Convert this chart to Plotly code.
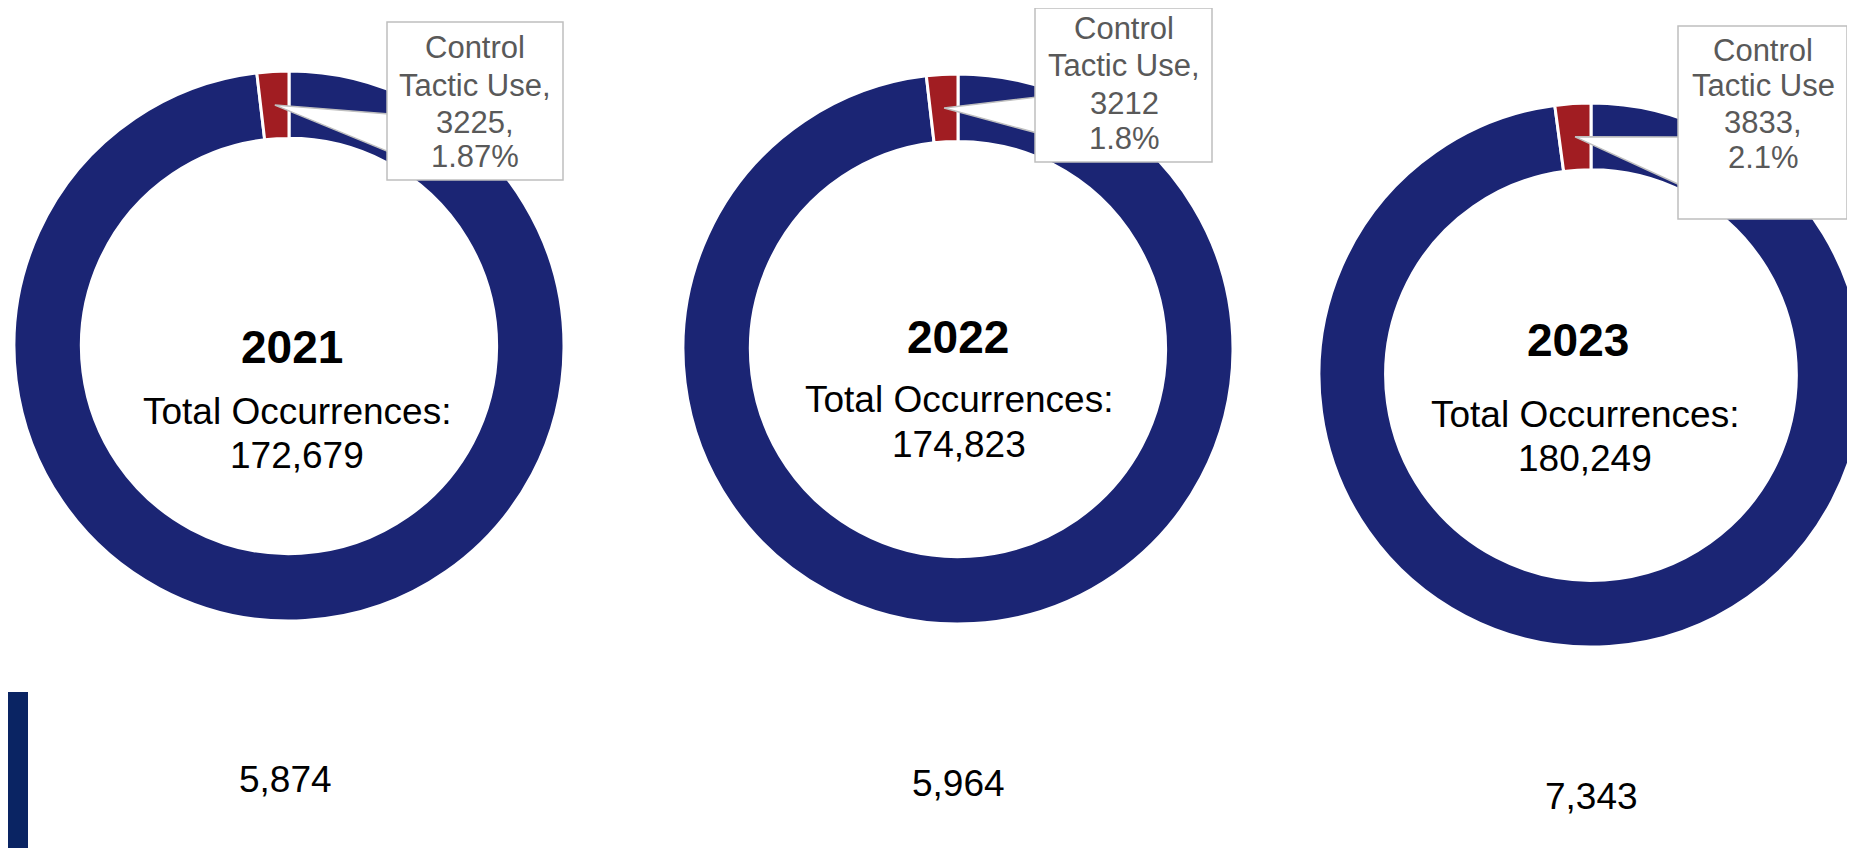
import math
import plotly.graph_objects as go

# ---------------- data ----------------
years = ["2021", "2022", "2023"]
total_occurrences = [172679, 174823, 180249]
control_tactic_use = [3225, 3212, 3833]
callout_lines = [
    ["Control", "Tactic Use,", "3225,", "1.87%"],
    ["Control", "Tactic Use,", "3212", "1.8%"],
    ["Control", "Tactic Use", "3833,", "2.1%"],
]
bottom_values = ["5,874", "5,964", "7,343"]

# ---------------- style / layout ----------------
W, H = 1855, 848
OFF = 8  # default page body margin
NAVY = "#1B2574"
RED = "#A11D22"
GRAY_TXT = "#595959"
BORDER = "#BFBFBF"
HOLE = 0.755
FONT = "Liberation Sans, Arial, sans-serif"

def px(x):
    return (x - OFF) / W

def py(y):
    return 1 - (y - OFF) / H

# donut domains in page pixels: (x0, x1, y_top, y_bottom)
donut_px = [
    (14, 564, 71, 621),
    (683, 1233, 74, 624),
    (1319, 1863, 103, 647),
]
# callout boxes: (x0, x1, y_top, y_bottom, base_y_top, base_y_bottom, text_x, line_ys)
callouts = [
    (387, 563, 22, 180, 114, 152, 475, [48, 85, 122, 157]),
    (1035, 1212, 8, 162, 97, 133, 1124, [28, 65, 103, 138]),
    (1678, 1847, 26, 219, 137, 185, 1763, [50, 85, 122, 158]),
]
center_text_px = [
    # (x_year, y_year, x_text, y_line1, y_line2)
    (292, 347, 297, 412, 455),
    (958, 337, 959, 399, 444),
    (1578, 340, 1585, 414, 458),
]
bottom_px = [(285, 779), (958, 783), (1591, 796)]

fig = go.Figure()
shapes = []
annotations = []

for i, yr in enumerate(years):
    x0, x1, yt, yb = donut_px[i]
    ctrl = control_tactic_use[i]
    other = total_occurrences[i] - ctrl
    # clockwise from 12 o'clock: "Other" first, so the red slice ends at 12 o'clock
    fig.add_trace(go.Pie(
        values=[other, ctrl],
        labels=["Other", "Control Tactic Use"],
        sort=False,
        direction="clockwise",
        rotation=0,
        hole=HOLE,
        textinfo="none",
        marker=dict(colors=[NAVY, RED], line=dict(color="white", width=3)),
        domain=dict(x=[max(0, px(x0)), min(1, px(x1))], y=[max(0, py(yb)), min(1, py(yt))]),
        showlegend=False,
        hoverinfo="label+value+percent",
    ))

    # pointer tip at the middle of the red slice
    cx, cy = (x0 + x1) / 2, (yt + yb) / 2
    r = min(x1 - x0, yb - yt) / 2
    rmid = r * (1 + HOLE) / 2
    theta = math.pi * ctrl / total_occurrences[i]
    tipx = cx - rmid * math.sin(theta)
    tipy = cy - rmid * math.cos(theta)

    bx0, bx1, byt, byb, b1, b2, tx, lys = callouts[i]
    shapes.append(dict(
        type="path", xref="paper", yref="paper", layer="above",
        path=f"M {px(tipx)},{py(tipy)} L {px(bx0 + 2)},{py(b1)} L {px(bx0 + 2)},{py(b2)} Z",
        fillcolor="white", line=dict(color=BORDER, width=1.5),
    ))
    shapes.append(dict(
        type="rect", xref="paper", yref="paper", layer="above",
        x0=px(bx0), x1=px(bx1), y0=py(byb), y1=min(1, py(byt)),
        fillcolor="white", line=dict(color=BORDER, width=1.5),
    ))
    for line, ly in zip(callout_lines[i], lys):
        annotations.append(dict(
            text=line, x=px(tx), y=py(ly), xref="paper", yref="paper",
            xanchor="center", yanchor="middle", showarrow=False,
            font=dict(family=FONT, size=31, color=GRAY_TXT),
        ))

    xy, yy, xt, yl1, yl2 = center_text_px[i]
    annotations.append(dict(
        text=f"<b>{yr}</b>", x=px(xy), y=py(yy), xref="paper", yref="paper",
        xanchor="center", yanchor="middle", showarrow=False,
        font=dict(family=FONT, size=46, color="black"),
    ))
    annotations.append(dict(
        text="Total Occurrences:", x=px(xt), y=py(yl1), xref="paper", yref="paper",
        xanchor="center", yanchor="middle", showarrow=False,
        font=dict(family=FONT, size=37, color="black"),
    ))
    annotations.append(dict(
        text=f"{total_occurrences[i]:,}", x=px(xt), y=py(yl2), xref="paper", yref="paper",
        xanchor="center", yanchor="middle", showarrow=False,
        font=dict(family=FONT, size=37, color="black"),
    ))
    bx, by = bottom_px[i]
    annotations.append(dict(
        text=bottom_values[i], x=px(bx), y=py(by), xref="paper", yref="paper",
        xanchor="center", yanchor="middle", showarrow=False,
        font=dict(family=FONT, size=37, color="black"),
    ))

# dark bar at bottom-left
shapes.append(dict(
    type="rect", xref="paper", yref="paper", layer="above",
    x0=0, x1=px(28), y0=0, y1=py(692),
    fillcolor="#0A2463", line=dict(width=0),
))

fig.update_layout(
    width=W, height=H,
    margin=dict(l=0, r=0, t=0, b=0, pad=0),
    paper_bgcolor="white", plot_bgcolor="white",
    shapes=shapes, annotations=annotations,
)

fig.write_html("out.html")
